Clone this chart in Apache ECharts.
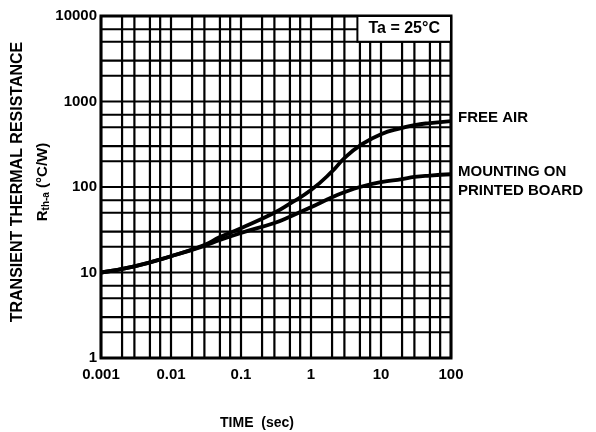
<!DOCTYPE html>
<html>
<head>
<meta charset="utf-8">
<script src="https://cdn.jsdelivr.net/npm/echarts@6/dist/echarts.min.js"></script>
<style>
html,body{margin:0;padding:0;background:#fff;}
#chart{width:596px;height:432px;}
</style>
</head>
<body>
<div id="chart"></div>
<script>
// ---- data ----
const timeSec      = [0.001, 0.003, 0.01, 0.03, 0.05, 0.1, 0.3, 0.5, 1, 2, 3, 5, 10, 20, 30, 50, 100];
const freeAir      = [10, 11.8, 15.5, 21, 26, 33, 50, 64, 92, 152, 218, 305, 415, 490, 530, 560, 590];
const printedBoard = [10, 11.8, 15.5, 20.5, 24, 29, 38, 45, 58, 76, 87, 100, 114, 124, 131, 136, 141];

const xTickLabels = ['0.001', '0.01', '0.1', '1', '10', '100'];
const yTickLabels = ['1', '10', '100', '1000', '10000'];
const xDecades = [0.001, 0.01, 0.1, 1, 10, 100];
const yDecades = [1, 10, 100, 1000, 10000];
const minorSteps = [2, 3, 5, 7];

// grid line values (decades plus 2,3,5,7 within each decade)
function gridValues(decades) {
  const out = [];
  decades.forEach((d, i) => {
    out.push(d);
    if (i < decades.length - 1) minorSteps.forEach(s => out.push(+(d * s).toPrecision(6)));
  });
  return out;
}
const xGrid = gridValues(xDecades);
const yGrid = gridValues(yDecades);
const xMin = xDecades[0], xMax = xDecades[xDecades.length - 1];
const yMin = yDecades[0], yMax = yDecades[yDecades.length - 1];

const FONT = 'Liberation Sans, Arial, sans-serif';
const chart = echarts.init(document.getElementById('chart'), null, {renderer: 'canvas'});

const gridStyle = {color: '#000', width: 2.2, type: 'solid'};
const gridSeries = []
  .concat(xGrid.map(v => ({type: 'line', z: 1, silent: true, clip: false, symbol: 'none',
      lineStyle: gridStyle, data: [[v, yMin], [v, yMax]]})))
  .concat(yGrid.map(v => ({type: 'line', z: 1, silent: true, clip: false, symbol: 'none',
      lineStyle: gridStyle, data: [[xMin, v], [xMax, v]]})));

chart.setOption({
  animation: false,
  backgroundColor: '#fff',
  grid: {left: 101, top: 16, right: 145, bottom: 74, show: true,
         borderColor: '#000', borderWidth: 3, backgroundColor: 'transparent'},
  xAxis: {
    type: 'log', logBase: 10, min: xMin, max: xMax,
    axisLine: {show: false}, axisTick: {show: false}, splitLine: {show: false},
    axisLabel: {
      margin: 9, color: '#000', fontSize: 15, fontWeight: 'bold', fontFamily: FONT,
      formatter: (v, i) => xTickLabels[i]
    }
  },
  yAxis: {
    type: 'log', logBase: 10, min: yMin, max: yMax,
    axisLine: {show: false}, axisTick: {show: false}, splitLine: {show: false},
    axisLabel: {
      margin: 4, color: '#000', fontSize: 15, fontWeight: 'bold', fontFamily: FONT,
      formatter: (v, i) => yTickLabels[i]
    }
  },
  series: gridSeries.concat([
    {
      name: 'FREE AIR', type: 'line', z: 3,
      data: timeSec.map((t, i) => [t, freeAir[i]]),
      smooth: 0.5, showSymbol: false, symbol: 'none',
      lineStyle: {color: '#000', width: 3.8},
      endLabel: {show: true, formatter: 'FREE AIR', color: '#000', fontSize: 15,
                 fontWeight: 'bold', fontFamily: FONT, distance: 7, offset: [0, -3]},
      markArea: {
        z: 4,
        silent: true,
        itemStyle: {color: '#fff', borderColor: '#000', borderWidth: 2},
        label: {show: true, position: 'inside', formatter: 'Ta = 25°C', color: '#000',
                fontSize: 16, fontWeight: 'bold', fontFamily: FONT},
        data: [[{xAxis: 4.6, yAxis: 5000}, {xAxis: 100, yAxis: 10000}]]
      }
    },
    {
      name: 'MOUNTING ON PRINTED BOARD', type: 'line', z: 3,
      data: timeSec.map((t, i) => [t, printedBoard[i]]),
      smooth: 0.5, showSymbol: false, symbol: 'none',
      lineStyle: {color: '#000', width: 3.8},
      endLabel: {show: true, formatter: 'MOUNTING ON\nPRINTED BOARD', color: '#000',
                 fontSize: 15, fontWeight: 'bold', fontFamily: FONT, lineHeight: 19,
                 distance: 7, offset: [0, 7]}
    }
  ]),
  graphic: [
    {type: 'text', x: 257, y: 423, style: {text: 'TIME  (sec)', fill: '#000', fontSize: 14,
      fontWeight: 'bold', fontFamily: FONT, align: 'center', verticalAlign: 'middle'}},
    {type: 'text', x: 18, y: 182, rotation: Math.PI / 2,
      style: {text: 'TRANSIENT THERMAL RESISTANCE', fill: '#000', fontSize: 16,
      fontWeight: 'bold', fontFamily: FONT, align: 'center', verticalAlign: 'middle'}},
    {type: 'text', x: 43, y: 182, rotation: Math.PI / 2,
      style: {text: '{r|R}{s|th-a}{r| (°C/W)}', fill: '#000', align: 'center', verticalAlign: 'middle',
      rich: {
        r: {fontSize: 15, fontWeight: 'bold', fontFamily: FONT, fill: '#000'},
        s: {fontSize: 10, fontWeight: 'bold', fontFamily: FONT, fill: '#000', padding: [6, 0, 0, 0]}
      }}}
  ]
});
</script>
</body>
</html>
